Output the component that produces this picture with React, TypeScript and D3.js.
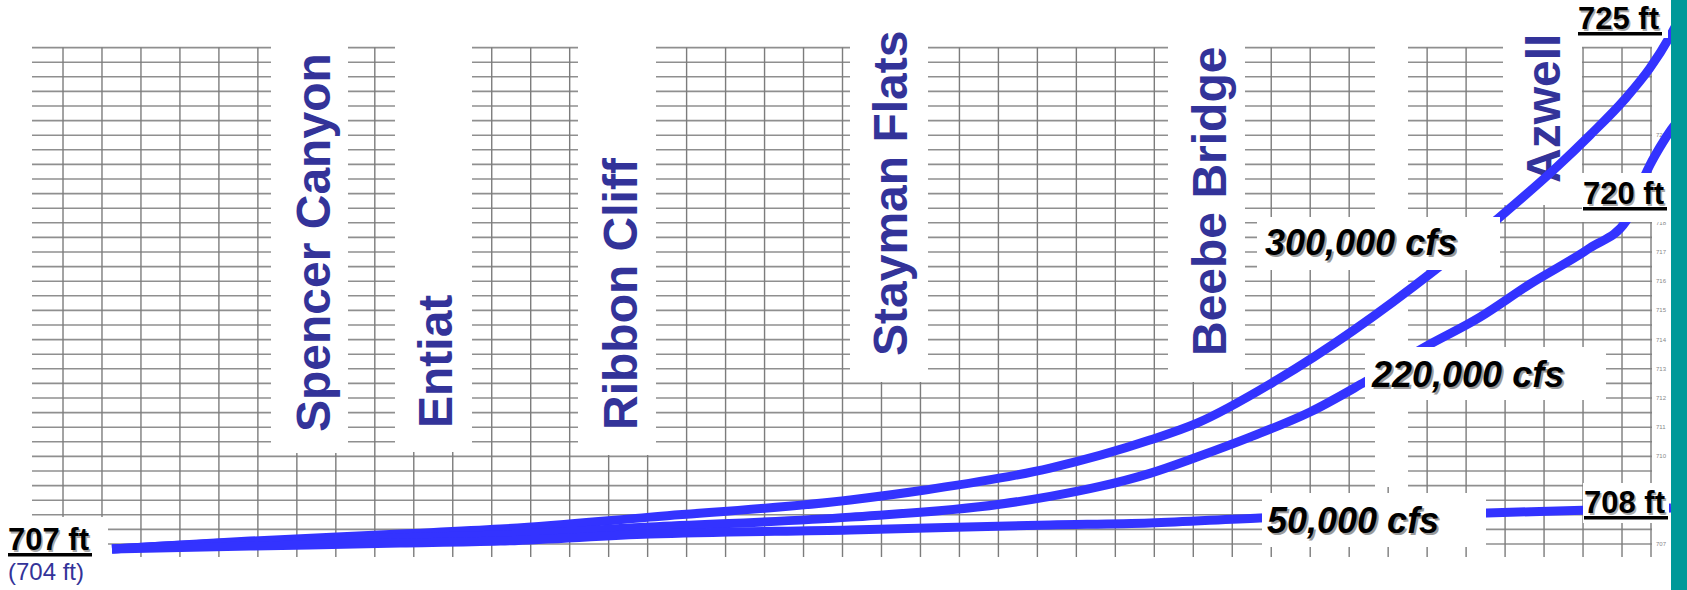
import React from 'react';
import * as d3 from 'd3';

const W = 1687;
const H = 590;

// Distance upstream from the dam (miles) and water-surface elevation (ft)
const miles300k = [0, 3.54, 7.39, 9.96, 13.8, 18.94, 20.86, 24.07, 26.63, 27.84, 29.89, 33.94, 35.61, 37.07, 37.92, 38.82, 39.46, 39.98, 40.36];
const elev300k = [706.83, 707.1, 707.34, 707.51, 707.92, 708.51, 708.85, 709.6, 710.56, 711.14, 712.62, 716.38, 718.2, 719.91, 721.0, 722.24, 723.3, 724.4, 725.36];

const miles220k = [0, 3.54, 7.39, 9.96, 13.8, 18.94, 22.78, 24.07, 25.35, 26.63, 27.84, 29.2, 30.74, 32.15, 33.69, 35.1, 36.38, 37.92, 38.85, 39.2, 39.46, 39.72, 40.0, 40.36];
const elev220k = [706.83, 707.07, 707.21, 707.31, 707.58, 707.92, 708.36, 708.63, 708.97, 709.42, 709.98, 710.66, 711.52, 712.55, 713.75, 714.77, 715.9, 717.14, 718.06, 719.23, 719.98, 720.6, 721.18, 721.79];

const miles50k = [0, 3.54, 7.39, 9.96, 13.8, 18.94, 24.07, 26.63, 29.45, 35.28, 37.74, 40.0];
const elev50k = [706.83, 706.93, 707.03, 707.1, 707.34, 707.48, 707.65, 707.72, 707.89, 708.06, 708.16, 708.23];

const flowLabels = ['300,000 cfs', '220,000 cfs', '50,000 cfs'];
const endLabels = ['725 ft', '720 ft', '708 ft'];
const startLabel = '707 ft';
const startSubLabel = '(704 ft)';
const places = ['Spencer Canyon', 'Entiat', 'Ribbon Cliff', 'Stayman Flats', 'Beebe Bridge', 'Azwell'];
const gridTickLabels = [707, 710, 711, 712, 713, 714, 715, 716, 717, 718, 721];

// scales
const x = d3.scaleLinear().domain([0, 40]).range([112, 1671]);
const y = d3.scaleLinear().domain([707, 725]).range([544, 18.4]);

// layout (pixels)
const placeLayout = [
  { bx: 330, by: 432, x0: 271, x1: 348, y1: 453 },
  { bx: 452, by: 428, x0: 395, x1: 472, y1: 452 },
  { bx: 637, by: 430, x0: 578, x1: 656, y1: 455 },
  { bx: 907, by: 356, x0: 850, x1: 928, y1: 382 },
  { bx: 1226, by: 356, x0: 1168, x1: 1245, y1: 382 },
  { bx: 1560, by: 183, x0: 1503, x1: 1582, y1: 205 },
];
const flowLayout = [
  { tx: 1265, ty: 255, x0: 1257, x1: 1500, y0: 217, y1: 270 },
  { tx: 1372, ty: 387, x0: 1365, x1: 1606, y0: 347, y1: 400 },
  { tx: 1267, ty: 533, x0: 1262, x1: 1486, y0: 493, y1: 547 },
];
const endLayout = [
  { tx: 1578, ty: 29, x0: 1576, x1: 1668, y0: 0, y1: 38 },
  { tx: 1583, ty: 204, x0: 1582, x1: 1669, y0: 173, y1: 222 },
  { tx: 1584, ty: 513, x0: 1583, x1: 1669, y0: 483, y1: 523 },
];

const FONT = '"Liberation Sans", Arial, Helvetica, sans-serif';

export default function App() {
  const line = d3
    .line<[number, number]>()
    .x((d) => x(d[0]))
    .y((d) => y(d[1]))
    .curve(d3.curveMonotoneX);

  const series = [
    d3.zip(miles300k, elev300k) as [number, number][],
    d3.zip(miles220k, elev220k) as [number, number][],
    d3.zip(miles50k, elev50k) as [number, number][],
  ];

  const hLines = d3.range(707, 724.01, 0.5);
  const vLines = d3.range(0, 41).map((k) => k - 1.257);
  const gridX0 = 32;
  const gridX1 = 1652;
  const gridTop = y(724);
  const gridBottom = 557;

  return (
    <svg
      width={W}
      height={H}
      viewBox={`0 0 ${W} ${H}`}
      style={{ position: 'absolute', left: 0, top: 0, display: 'block', background: '#fff' }}
      fontFamily={FONT}
    >
      <rect x={0} y={0} width={W} height={H} fill="#fff" />
      {/* scanned grid */}
      <g>
        {hLines.map((v, i) => (
          <line key={'h' + i} x1={gridX0} x2={gridX1} y1={y(v)} y2={y(v)} stroke="#8f8f8f" strokeWidth={1.6} />
        ))}
        {vLines.map((m, i) => (
          <line key={'v' + i} x1={x(m)} x2={x(m)} y1={gridTop} y2={gridBottom} stroke="#7c7c7c" strokeWidth={1.4} />
        ))}
        <line x1={gridX1 - 1} x2={gridX1 - 1} y1={gridTop} y2={gridBottom} stroke="#7c7c7c" strokeWidth={1.4} />
        {gridTickLabels.map((t) => (
          <text key={'t' + t} x={1656} y={y(t) + 2} fontSize={6} fill="#888">
            {t}
          </text>
        ))}
      </g>
      {/* blank strip in scan */}
      <rect x={1375} y={0} width={33} height={487} fill="#fff" />
      {/* place names */}
      {places.map((p, i) => {
        const L = placeLayout[i];
        return (
          <g key={p}>
            <rect x={L.x0} y={0} width={L.x1 - L.x0} height={L.y1} fill="#fff" />
            <text
              transform={`translate(${L.bx},${L.by}) rotate(-90)`}
              fontSize={48}
              fontWeight="bold"
              fill="#333399"
            >
              {p}
            </text>
          </g>
        );
      })}
      {/* profiles */}
      {series.map((s, i) => (
        <path key={'s' + i} d={line(s) || ''} fill="none" stroke="#3333ff" strokeWidth={9} />
      ))}
      {/* flow labels */}
      {flowLabels.map((f, i) => {
        const L = flowLayout[i];
        return (
          <g key={f}>
            <rect x={L.x0} y={L.y0} width={L.x1 - L.x0} height={L.y1 - L.y0} fill="#fff" />
            <text x={L.tx + 2} y={L.ty + 2} fontSize={36} fontWeight="bold" fontStyle="italic" fill="#9a9a9a">
              {f}
            </text>
            <text x={L.tx} y={L.ty} fontSize={36} fontWeight="bold" fontStyle="italic" fill="#000">
              {f}
            </text>
          </g>
        );
      })}
      {/* end elevations */}
      {endLabels.map((e, i) => {
        const L = endLayout[i];
        return (
          <g key={e}>
            <rect x={L.x0} y={L.y0} width={L.x1 - L.x0} height={L.y1 - L.y0} fill="#fff" />
            <text x={L.tx + 1.5} y={L.ty + 1.5} fontSize={31} fontWeight="bold" fill="#aaa">
              {e}
            </text>
            <text x={L.tx} y={L.ty} fontSize={31} fontWeight="bold" fill="#000">
              {e}
            </text>
            <rect x={L.tx} y={L.ty + 3} width={84} height={3.5} fill="#000" />
          </g>
        );
      })}
      {/* start label */}
      <rect x={0} y={517} width={108} height={73} fill="#fff" />
      <text x={9.5} y={551.5} fontSize={31} fontWeight="bold" fill="#aaa">
        {startLabel}
      </text>
      <text x={8} y={550} fontSize={31} fontWeight="bold" fill="#000">
        {startLabel}
      </text>
      <rect x={8} y={553} width={84} height={3.5} fill="#000" />
      <text x={8} y={580} fontSize={24} fill="#333399">
        {startSubLabel}
      </text>
      {/* teal bar */}
      <rect x={1671} y={0} width={16} height={H} fill="#009999" />
    </svg>
  );
}
